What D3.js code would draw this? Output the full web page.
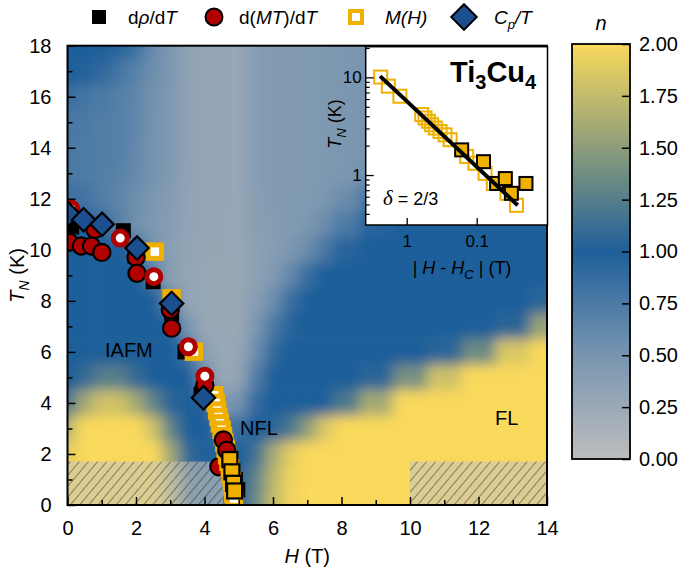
<!DOCTYPE html>
<html><head><meta charset="utf-8">
<script src="https://cdn.jsdelivr.net/npm/d3@7"></script>
<style>
body{margin:0;background:#fff;}
svg text{font-family:"Liberation Sans",Arial,sans-serif;fill:#000;}
</style>
</head><body>
<svg id="c" width="685" height="568"></svg>
<script>
// ---------------- DATA ----------------
const gridH = [0,0.5,1,1.5,2,2.5,3,3.5,4,4.5,5,5.5,6,6.5,7,7.5,8,9,10,11,12,13,14];
const gridT = [18,17,16,15,14,13,12,11,10,9,8,7,6,5,4,3,2,1,0];
const gridN = [
 [1.0,1.0,1.0,0.95,0.85,0.6,0.47,0.33,0.3,0.3,0.28,0.4,0.43,0.43,0.43,0.45,0.47,0.5,0.5,0.5,0.5,0.5,0.5],
 [1.0,0.98,0.92,0.8,0.68,0.56,0.47,0.33,0.3,0.3,0.28,0.4,0.43,0.43,0.43,0.45,0.47,0.5,0.5,0.5,0.5,0.5,0.5],
 [0.85,0.8,0.75,0.7,0.64,0.53,0.46,0.33,0.3,0.3,0.28,0.4,0.43,0.43,0.43,0.45,0.47,0.5,0.5,0.5,0.5,0.5,0.5],
 [0.78,0.75,0.72,0.7,0.63,0.52,0.45,0.33,0.3,0.3,0.28,0.4,0.43,0.43,0.43,0.45,0.47,0.5,0.5,0.5,0.5,0.5,0.5],
 [0.76,0.74,0.72,0.7,0.62,0.52,0.45,0.33,0.3,0.3,0.28,0.4,0.43,0.43,0.43,0.45,0.47,0.5,0.5,0.5,0.5,0.5,0.5],
 [0.76,0.74,0.72,0.68,0.6,0.52,0.44,0.33,0.3,0.3,0.28,0.4,0.43,0.43,0.43,0.45,0.47,0.55,0.6,0.6,0.6,0.6,0.6],
 [0.85,0.8,0.72,0.64,0.56,0.48,0.42,0.32,0.3,0.3,0.28,0.39,0.42,0.43,0.44,0.48,0.58,0.8,0.9,0.9,0.9,0.9,0.9],
 [1.0,1.0,0.9,0.7,0.55,0.46,0.4,0.32,0.3,0.29,0.28,0.37,0.41,0.43,0.48,0.58,0.74,0.95,1.0,1.0,1.0,1.0,1.0],
 [1.0,1.0,1.0,1.0,0.88,0.52,0.38,0.31,0.29,0.29,0.28,0.35,0.4,0.47,0.58,0.77,0.95,1.0,1.0,1.0,1.0,1.0,1.0],
 [1.0,1.0,1.0,1.0,1.0,0.7,0.37,0.3,0.28,0.27,0.27,0.35,0.44,0.62,0.86,1.0,1.0,1.0,1.0,1.0,1.0,1.0,1.0],
 [1.0,1.0,1.0,1.0,1.0,1.0,0.62,0.31,0.28,0.27,0.27,0.4,0.57,0.86,1.0,1.0,1.0,1.0,1.0,1.0,1.0,1.0,1.05],
 [1.0,1.0,1.0,1.0,1.0,1.0,1.0,0.5,0.28,0.27,0.27,0.47,0.76,0.95,1.0,1.0,1.0,1.0,1.0,1.0,1.0,1.05,1.55],
 [1.0,1.0,1.0,1.0,1.0,1.0,1.0,0.85,0.36,0.27,0.29,0.57,0.9,1.0,1.0,1.0,1.0,1.0,1.0,1.05,1.35,1.85,2.0],
 [1.0,1.1,1.25,1.25,1.1,1.0,1.0,1.0,0.6,0.27,0.32,0.72,1.0,1.0,1.0,1.0,1.0,1.05,1.4,1.8,2.0,2.0,2.0],
 [1.2,1.6,1.8,1.8,1.6,1.3,1.05,1.0,0.95,0.47,0.52,0.9,1.0,1.0,1.0,1.0,1.2,1.6,2.0,2.0,2.0,2.0,2.0],
 [1.7,2.0,2.0,2.0,2.0,1.8,1.3,1.0,1.0,0.8,0.85,1.0,1.05,1.2,1.5,1.85,2.0,2.0,2.0,2.0,2.0,2.0,2.0],
 [1.9,2.0,2.0,2.0,2.0,2.0,1.6,1.1,1.0,0.95,1.0,1.15,1.6,1.9,2.0,2.0,2.0,2.0,2.0,2.0,2.0,2.0,2.0],
 [2.0,2.0,2.0,2.0,2.0,2.0,1.7,1.15,0.9,0.85,0.95,1.3,1.7,1.95,2.0,2.0,2.0,2.0,2.0,2.0,2.0,2.0,2.0],
 [2.0,2.0,2.0,2.0,2.0,2.0,1.7,1.15,0.9,0.85,1.0,1.35,1.75,1.95,2.0,2.0,2.0,2.0,2.0,2.0,2.0,2.0,2.0]
];

// T_N(H) points
const rhoH = [0.12,1.63,1.97,2.5,3.04,3.43,3.9,4.9,4.97];
const rhoT = [10.9,10.75,9.75,8.75,7.5,6.0,4.35,1.0,0.6];
const mtH = [0.05,0.4,0.7,1.0,0.8,2.0,2.03,3.0,3.04,4.01,4.55,4.65];
const mtT = [10.3,10.15,10.15,9.9,10.8,9.7,9.08,7.65,6.93,4.7,2.55,2.15];
const mtBackH = [4.42];
const mtBackT = [1.5];
const mt2H = [0.1,1.54,2.52,3.53,4.01];
const mt2T = [11.6,10.46,8.95,6.2,5.05];
const mhH = [2.55,3.04,3.69,4.28,4.33,4.37,4.41,4.45,4.5,4.54,4.58,4.62,4.66,4.7,4.74,4.77,4.8,4.82,4.84,4.86];
const mhT = [9.93,8.1,6.01,4.3,4.0,3.7,3.45,3.2,2.95,2.7,2.45,2.2,1.95,1.7,1.45,1.2,0.95,0.7,0.45,0.25];
const mh2H = [4.74,4.8,4.85,4.88];
const mh2T = [1.78,1.3,0.85,0.55];
const cpH = [0.03,0.47,1.01,2.03,3.04,3.97];
const cpT = [11.4,11.18,11.0,10.07,7.9,4.2];

// hatched regions
const hatchH0 = [0, 10];
const hatchH1 = [4.55, 14];
const hatchT1 = [1.7, 1.7];

// inset: T_N vs |H-Hc|
const insOpenX = [2.35,1.83,1.25,0.61,0.548,0.49,0.44,0.39,0.334,0.284,0.24,0.139,0.106,0.076,0.058,0.037,0.027];
const insOpenY = [10.07,8.13,6.41,4.16,3.84,3.55,3.27,3.03,2.79,2.58,2.30,1.55,1.32,1.04,0.82,0.65,0.49];
const insFillX = [0.164,0.080,0.052,0.039,0.032,0.0198];
const insFillY = [1.81,1.37,0.82,0.92,0.65,0.82];
const fitX = [2.4,0.026];
const fitY = [10.3,0.49];

// ticks
const xMajor = [0,2,4,6,8,10,12,14];
const xMinor = [1,3,5,7,9,11,13];
const yMajor = [0,2,4,6,8,10,12,14,16,18];
const yMinor = [1,3,5,7,9,11,13,15,17];
const cbTicks = [0,0.25,0.5,0.75,1.0,1.25,1.5,1.75,2.0];
const insXTicks = [1,0.1];
const insYMajor = [1,10];
const insYMinor = [0.4,0.5,0.6,0.7,0.8,0.9,2,3,4,5,6,7,8,9,20];

// ---------------- DRAW ----------------
const svg = d3.select("#c");
const defs = svg.append("defs");
const x = d3.scaleLinear().domain([0,14]).range([67.5,547]);
const y = d3.scaleLinear().domain([0,18]).range([505,45.7]);
const nColor = d3.scaleLinear().domain([0,0.5,1,1.5,2])
  .range(["#bdbdbd","#7895b0","#1f5f9a","#8d9d7b","#f9d95c"]).clamp(true);

const RED="#b00000", YEL="#f0b000", BLU="#1c4f8f";

defs.append("clipPath").attr("id","pc").append("rect")
  .attr("x",x(0)).attr("y",y(18)).attr("width",x(14)-x(0)).attr("height",y(0)-y(18));
const flt = defs.append("filter").attr("id","blur").attr("x","-10%").attr("y","-10%").attr("width","120%").attr("height","120%");
flt.append("feGaussianBlur").attr("stdDeviation",6.5);

const pat = defs.append("pattern").attr("id","hatch").attr("patternUnits","userSpaceOnUse")
  .attr("width",7).attr("height",7).attr("patternTransform","rotate(40)");
pat.append("line").attr("x1",0).attr("y1",-1).attr("x2",0).attr("y2",8).attr("stroke","#1a1a1a").attr("stroke-width",0.9);

function edgesAsc(a,pad){return a.map((v,i)=>[i===0?v-pad:(a[i-1]+v)/2, i===a.length-1?v+pad:(v+a[i+1])/2]);}
function edgesDesc(a,pad){return a.map((v,i)=>[i===a.length-1?v-pad:(v+a[i+1])/2, i===0?v+pad:(a[i-1]+v)/2]);}
const he = edgesAsc(gridH,1), te = edgesDesc(gridT,1);

const heatOuter = svg.append("g").attr("clip-path","url(#pc)");
const heat = heatOuter.append("g").attr("filter","url(#blur)");
const cells=[];
gridT.forEach((t,j)=>gridH.forEach((h,i)=>cells.push({i,j,n:gridN[j][i]})));
heat.selectAll("rect").data(cells).join("rect")
  .attr("x",d=>x(he[d.i][0])).attr("width",d=>x(he[d.i][1])-x(he[d.i][0])+0.6)
  .attr("y",d=>y(te[d.j][1])).attr("height",d=>y(te[d.j][0])-y(te[d.j][1])+0.6)
  .attr("fill",d=>nColor(d.n));

// hatched
const hatchData = hatchH0.map((h,i)=>({h0:h,h1:hatchH1[i],t1:hatchT1[i]}));
const hg = svg.append("g").attr("clip-path","url(#pc)");
hg.selectAll("rect.ov").data(hatchData).join("rect").attr("class","ov")
  .attr("x",d=>x(d.h0)).attr("y",d=>y(d.t1)).attr("width",d=>x(d.h1)-x(d.h0)).attr("height",d=>y(0)-y(d.t1))
  .attr("fill","rgba(198,196,186,0.58)");
hg.selectAll("rect.ht").data(hatchData).join("rect").attr("class","ht")
  .attr("x",d=>x(d.h0)).attr("y",d=>y(d.t1)).attr("width",d=>x(d.h1)-x(d.h0)).attr("height",d=>y(0)-y(d.t1))
  .attr("fill","url(#hatch)");

// region labels
function txt(g,xx,yy,s,size,anchor){return g.append("text").attr("x",xx).attr("y",yy).attr("font-size",size).attr("text-anchor",anchor||"start").text(s);}
txt(svg,105,357,"IAFM",20);
txt(svg,240,435,"NFL",20);
txt(svg,495,425,"FL",20);

// markers
function zip(a,b){return a.map((v,i)=>[v,b[i]]);}
const mk = svg.append("g").attr("clip-path","url(#pc)");
function squares(g,data,sx,sy,s,fill,stroke,sw){
  g.append("g").selectAll("rect").data(data).join("rect")
   .attr("x",d=>sx(d[0])-s/2).attr("y",d=>sy(d[1])-s/2).attr("width",s).attr("height",s)
   .attr("fill",fill).attr("stroke",stroke).attr("stroke-width",sw);
}
function circles(g,data,sx,sy,r,fill,stroke,sw){
  g.append("g").selectAll("circle").data(data).join("circle")
   .attr("cx",d=>sx(d[0])).attr("cy",d=>sy(d[1])).attr("r",r)
   .attr("fill",fill).attr("stroke",stroke).attr("stroke-width",sw);
}
function diamonds(g,data,sx,sy,s,fill,stroke,sw){
  g.append("g").selectAll("rect").data(data).join("rect")
   .attr("x",-s/2).attr("y",-s/2).attr("width",s).attr("height",s)
   .attr("transform",d=>`translate(${sx(d[0])},${sy(d[1])}) rotate(45)`)
   .attr("fill",fill).attr("stroke",stroke).attr("stroke-width",sw);
}
squares(mk,zip(rhoH,rhoT),x,y,15,"#000","#000",0);
circles(mk,zip(mtBackH,mtBackT),x,y,8.6,RED,"#000",2.2);
squares(mk,zip(mhH,mhT),x,y,13.5,"#fff",YEL,5);
circles(mk,zip(mtH,mtT),x,y,8.6,RED,"#000",2.2);
circles(mk,zip(mt2H,mt2T),x,y,7,"#fff",RED,5);
diamonds(mk,zip(cpH,cpT),x,y,16.5,BLU,"#000",2.2);
squares(mk,zip(mh2H,mh2T),x,y,15,YEL,"#000",2.2);

// axes
const ax = svg.append("g");
ax.append("g").attr("transform",`translate(0,${y(0)})`)
  .call(d3.axisBottom(x).tickValues(xMajor).tickSize(-8).tickPadding(16).tickFormat(d3.format("d")))
  .call(g=>{g.select(".domain").remove();g.selectAll("text").attr("font-size",20).attr("fill","#000");g.selectAll("line").attr("stroke-width",1.5);});
ax.append("g").attr("transform",`translate(0,${y(0)})`)
  .call(d3.axisBottom(x).tickValues(xMinor).tickSize(-5).tickFormat(""))
  .call(g=>{g.select(".domain").remove();g.selectAll("line").attr("stroke-width",1.5);});
ax.append("g").attr("transform",`translate(${x(0)},0)`)
  .call(d3.axisLeft(y).tickValues(yMajor).tickSize(-8).tickPadding(16).tickFormat(d3.format("d")))
  .call(g=>{g.select(".domain").remove();g.selectAll("text").attr("font-size",20).attr("fill","#000");g.selectAll("line").attr("stroke-width",1.5);});
ax.append("g").attr("transform",`translate(${x(0)},0)`)
  .call(d3.axisLeft(y).tickValues(yMinor).tickSize(-5).tickFormat(""))
  .call(g=>{g.select(".domain").remove();g.selectAll("line").attr("stroke-width",1.5);});
svg.append("rect").attr("x",x(0)).attr("y",y(18)).attr("width",x(14)-x(0)).attr("height",y(0)-y(18))
  .attr("fill","none").attr("stroke","#000").attr("stroke-width",2);

// axis titles
const xt = svg.append("text").attr("x",(x(0)+x(14))/2).attr("y",563).attr("font-size",20).attr("text-anchor","middle");
xt.append("tspan").attr("font-style","italic").text("H");
xt.append("tspan").text(" (T)");
const yt = svg.append("text").attr("transform",`translate(24,${(y(0)+y(18))/2}) rotate(-90)`).attr("font-size",20).attr("text-anchor","middle");
yt.append("tspan").attr("font-style","italic").text("T");
yt.append("tspan").attr("font-style","italic").attr("font-size",14).attr("dy",5).text("N");
yt.append("tspan").attr("dy",-5).text(" (K)");

// ---------------- INSET ----------------
const ix = d3.scaleLog().domain([3.85,0.00975]).range([365.7,547.5]);
const iy = d3.scaleLog().domain([0.308,20.6]).range([225,46.7]);
const ins = svg.append("g");
ins.append("rect").attr("x",ix.range()[0]).attr("y",iy.range()[1]).attr("width",ix.range()[1]-ix.range()[0]).attr("height",iy.range()[0]-iy.range()[1])
  .attr("fill","#fff");
defs.append("clipPath").attr("id","ic").append("rect").attr("x",ix.range()[0]).attr("y",iy.range()[1]).attr("width",ix.range()[1]-ix.range()[0]).attr("height",iy.range()[0]-iy.range()[1]);
const ip = ins.append("g").attr("clip-path","url(#ic)");
ip.append("g").selectAll("rect").data(zip(insOpenX,insOpenY)).join("rect")
  .attr("x",d=>ix(d[0])-6.5).attr("y",d=>iy(d[1])-6.5).attr("width",13).attr("height",13)
  .attr("fill","none").attr("stroke",YEL).attr("stroke-width",2);
ip.append("g").selectAll("rect").data(zip(insFillX,insFillY)).join("rect")
  .attr("x",d=>ix(d[0])-6.5).attr("y",d=>iy(d[1])-6.5).attr("width",13).attr("height",13)
  .attr("fill",YEL).attr("stroke","#000").attr("stroke-width",2);
ip.append("path").datum(zip(fitX,fitY)).attr("d",d3.line().x(d=>ix(d[0])).y(d=>iy(d[1])))
  .attr("stroke","#000").attr("stroke-width",4).attr("fill","none");

const iax = ins.append("g");
iax.append("g").attr("transform",`translate(0,${iy.range()[0]})`)
  .call(d3.axisBottom(ix).tickValues(insXTicks).tickSize(-7).tickPadding(10).tickFormat(d=>d===1?"1":"0.1"))
  .call(g=>{g.select(".domain").remove();g.selectAll("text").attr("font-size",17).attr("fill","#000");g.selectAll("line").attr("stroke-width",1.3);});
iax.append("g").attr("transform",`translate(${ix.range()[0]},0)`)
  .call(d3.axisLeft(iy).tickValues(insYMajor).tickSize(-8).tickPadding(4).tickFormat(d=>d===1?"1":"10"))
  .call(g=>{g.select(".domain").remove();g.selectAll("text").attr("font-size",17).attr("fill","#000");g.selectAll("line").attr("stroke-width",1.3);});
iax.append("g").attr("transform",`translate(${ix.range()[0]},0)`)
  .call(d3.axisLeft(iy).tickValues(insYMinor).tickSize(-4).tickFormat(""))
  .call(g=>{g.select(".domain").remove();g.selectAll("line").attr("stroke-width",1.2);});
ins.append("rect").attr("x",ix.range()[0]).attr("y",iy.range()[1]).attr("width",ix.range()[1]-ix.range()[0]).attr("height",iy.range()[0]-iy.range()[1])
  .attr("fill","none").attr("stroke","#000").attr("stroke-width",1.5);

const ttl = ins.append("text").attr("x",450).attr("y",82).attr("font-size",29).attr("font-weight","bold");
ttl.append("tspan").text("Ti");
ttl.append("tspan").attr("font-size",20).attr("dy",7).text("3");
ttl.append("tspan").attr("dy",-7).text("Cu");
ttl.append("tspan").attr("font-size",20).attr("dy",7).text("4");

const dl = ins.append("text").attr("x",383).attr("y",205).attr("font-size",18);
dl.append("tspan").attr("font-style","italic").attr("font-family","Liberation Serif, serif").attr("font-size",21).text("δ");
dl.append("tspan").text(" = 2/3");

const ixt = ins.append("text").attr("x",462).attr("y",274).attr("font-size",18).attr("text-anchor","middle");
ixt.append("tspan").text("| ");
ixt.append("tspan").attr("font-style","italic").text("H");
ixt.append("tspan").text(" - ");
ixt.append("tspan").attr("font-style","italic").text("H");
ixt.append("tspan").attr("font-style","italic").attr("font-size",13).attr("dy",5).text("C");
ixt.append("tspan").attr("dy",-5).text(" | (T)");

const iyt = ins.append("text").attr("transform",`translate(341,124) rotate(-90)`).attr("font-size",18).attr("text-anchor","middle");
iyt.append("tspan").attr("font-style","italic").text("T");
iyt.append("tspan").attr("font-style","italic").attr("font-size",13).attr("dy",5).text("N");
iyt.append("tspan").attr("dy",-5).text(" (K)");

// ---------------- COLORBAR ----------------
const cbY = d3.scaleLinear().domain([0,2]).range([459,44]);
const cbX0 = 572, cbW = 58;
const grad = defs.append("linearGradient").attr("id","cbg").attr("x1",0).attr("y1",1).attr("x2",0).attr("y2",0);
d3.range(0,2.0001,0.05).forEach(v=>grad.append("stop").attr("offset",v/2).attr("stop-color",nColor(v)));
svg.append("rect").attr("x",cbX0).attr("y",cbY(2)).attr("width",cbW).attr("height",cbY(0)-cbY(2))
  .attr("fill","url(#cbg)").attr("stroke","#000").attr("stroke-width",1.8);
svg.append("g").attr("transform",`translate(${cbX0+cbW},0)`)
  .call(d3.axisRight(cbY).tickValues(cbTicks).tickSize(-8).tickPadding(9).tickFormat(d3.format(".2f")))
  .call(g=>{g.select(".domain").remove();g.selectAll("text").attr("font-size",20).attr("fill","#000");g.selectAll("line").attr("stroke-width",1.5);});
svg.append("text").attr("x",601).attr("y",30).attr("font-size",20).attr("font-style","italic").attr("text-anchor","middle").text("n");

// ---------------- LEGEND ----------------
const lg = svg.append("g");
const ly = 17;
lg.append("rect").attr("x",92).attr("y",ly-7).attr("width",14).attr("height",14).attr("fill","#000");
let t = lg.append("text").attr("x",128).attr("y",ly+7).attr("font-size",19);
t.append("tspan").text("d"); t.append("tspan").attr("font-style","italic").text("ρ");
t.append("tspan").text("/d"); t.append("tspan").attr("font-style","italic").text("T");
lg.append("circle").attr("cx",214).attr("cy",ly).attr("r",8.5).attr("fill",RED).attr("stroke","#000").attr("stroke-width",2);
t = lg.append("text").attr("x",239).attr("y",ly+7).attr("font-size",19);
t.append("tspan").text("d("); t.append("tspan").attr("font-style","italic").text("MT");
t.append("tspan").text(")/d"); t.append("tspan").attr("font-style","italic").text("T");
lg.append("rect").attr("x",356-6).attr("y",ly-6).attr("width",12).attr("height",12).attr("fill","#fff").attr("stroke",YEL).attr("stroke-width",4);
t = lg.append("text").attr("x",385).attr("y",ly+7).attr("font-size",19).attr("font-style","italic").text("M(H)");
lg.append("rect").attr("x",-9).attr("y",-9).attr("width",18).attr("height",18).attr("transform",`translate(464,${ly}) rotate(45)`)
  .attr("fill",BLU).attr("stroke","#000").attr("stroke-width",2);
t = lg.append("text").attr("x",494).attr("y",ly+7).attr("font-size",19).attr("font-style","italic");
t.append("tspan").text("C"); t.append("tspan").attr("font-size",13).attr("dy",5).text("p");
t.append("tspan").attr("dy",-5).text("/T");
</script>
</body></html>
